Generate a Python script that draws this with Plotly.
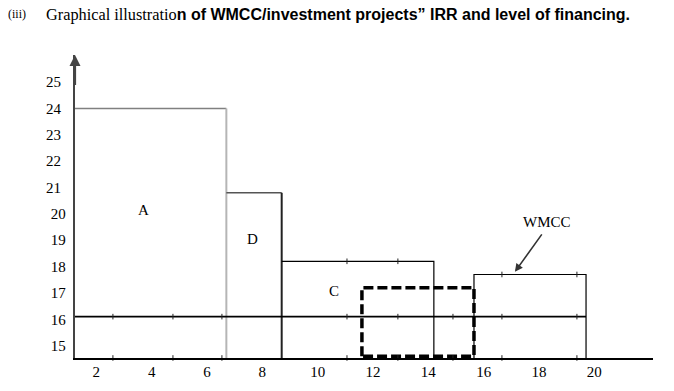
import plotly.graph_objects as go

# ---------------- data ----------------
x_ticks = [2, 4, 6, 8, 10, 12, 14, 16, 18, 20]
y_ticks_low = [15, 16, 17, 18, 19, 20]
y_ticks_high = [21, 22, 23, 24, 25]

projects = ["A", "D", "C"]
project_end = [6.7, 8.7, 14.2]        # cumulative financing level at end of each project
project_irr = [24.0, 20.8, 18.2]      # IRR of each project

wmcc_start = 15.65
wmcc_end = 19.7
wmcc_rate = 17.7

dashed_start = 11.6
dashed_end = 15.65
dashed_top = 17.2

cost_line = 16.1

# small tick marks drawn on the horizontal lines
marks_on_cost_line = [2.6, 4.77, 6.54, 11.06, 12.9, 14.89, 16.66, 19.37]
marks_on_c_top = [11.06, 12.9]
marks_on_wmcc_top = [16.66, 19.37]

X_MIN, X_MAX = 1.23, 22.12
Y_MIN, Y_MAX = 14.53, 26.03

# page body has an 8px margin -> figure is shifted by 8px
OFF = 8
W, H = 674 - OFF, 391 - OFF
ML, MR, MT, MB = 75 - OFF, 21, 55 - OFF, 33
PW, PH = W - ML - MR, H - MT - MB


def px(xp):
    return (xp - OFF - ML) / PW


def py(yp):
    return (H - MB - (yp - OFF)) / PH


SERIF = "Liberation Serif"
SANS = "Liberation Sans"

fig = go.Figure()


def seg(xs, ys, color, width, dash="solid"):
    fig.add_trace(go.Scatter(x=xs, y=ys, mode="lines", cliponaxis=False,
                             line=dict(color=color, width=width, dash=dash),
                             hoverinfo="skip", showlegend=False))


# project A
seg([X_MIN, project_end[0]], [project_irr[0], project_irr[0]], "#808080", 1.6)
seg([project_end[0], project_end[0]], [Y_MIN, project_irr[0]], "#b5b5b5", 2)
# project D
seg([project_end[0], project_end[1]], [project_irr[1], project_irr[1]], "#555555", 1.6)
seg([project_end[1], project_end[1]], [Y_MIN, project_irr[1]], "#222222", 2)
# project C
seg([project_end[1], project_end[2], project_end[2]],
    [project_irr[2], project_irr[2], Y_MIN], "#000000", 1.2)
# horizontal line at 16
seg([X_MIN, wmcc_end], [cost_line, cost_line], "#000000", 1.8)
# WMCC box
seg([wmcc_start, wmcc_start, wmcc_end, wmcc_end],
    [Y_MIN, wmcc_rate, wmcc_rate, Y_MIN], "#000000", 1.2)
# dashed box
seg([dashed_start, dashed_start, dashed_end, dashed_end, dashed_start],
    [Y_MIN + 0.07, dashed_top, dashed_top, Y_MIN + 0.07, Y_MIN + 0.07],
    "#000000", 3.5, dash="10px,4px")

# small tick marks
mx = marks_on_cost_line + marks_on_cost_line + marks_on_c_top + marks_on_wmcc_top
my = ([cost_line] * len(marks_on_cost_line) + [Y_MIN] * len(marks_on_cost_line)
      + [project_irr[2]] * len(marks_on_c_top) + [wmcc_rate] * len(marks_on_wmcc_top))
fig.add_trace(go.Scatter(x=mx, y=my, mode="markers", cliponaxis=False,
                         marker=dict(symbol="line-ns", size=4,
                                     line=dict(color="#222222", width=1)),
                         hoverinfo="skip", showlegend=False))

ann = []
# y axis arrow head
ann.append(dict(x=X_MIN, y=Y_MAX, ax=X_MIN, ay=Y_MAX - 1.2, xref="x", yref="y",
                axref="x", ayref="y", text="", showarrow=True, arrowhead=2,
                arrowsize=1, arrowwidth=2.2, arrowcolor="#444444"))
# project labels
label_pos = {"A": (3.69, 20.15), "D": (7.66, 19.05), "C": (10.59, 17.07)}
for p in projects:
    lx, ly = label_pos[p]
    ann.append(dict(x=lx, y=ly, xref="x", yref="y", text=p, showarrow=False,
                    font=dict(family=SERIF, size=15, color="black")))
# WMCC label and arrow
ann.append(dict(x=18.29, y=19.69, xref="x", yref="y", text="WMCC", showarrow=False,
                font=dict(family=SERIF, size=15, color="black")))
ann.append(dict(x=17.13, y=17.80, ax=18.14, ay=19.28, xref="x", yref="y",
                axref="x", ayref="y", text="", showarrow=True, arrowhead=2,
                arrowsize=1, arrowwidth=1.6, arrowcolor="#333333"))
# title
ann.append(dict(x=px(6), y=py(14), xref="paper", yref="paper", xanchor="left",
                yanchor="middle", text="(iii)", showarrow=False,
                font=dict(family=SERIF, size=12, color="black")))
ann.append(dict(x=px(44), y=py(14), xref="paper", yref="paper", xanchor="left",
                yanchor="middle",
                text=("<span style='font-family:Liberation Serif;font-size:16.3px'>"
                      "Graphical illustratio</span>"
                      "<b>n of WMCC/investment projects\u201d IRR and level of financing.</b>"),
                showarrow=False, font=dict(family=SANS, size=16, color="black")))

fig.update_layout(
    width=W, height=H,
    margin=dict(l=ML, r=MR, t=MT, b=MB, autoexpand=False),
    plot_bgcolor="white", paper_bgcolor="white",
    showlegend=False,
    annotations=ann,
    xaxis=dict(range=[X_MIN, X_MAX], showgrid=False, zeroline=False,
               automargin=False,
               showline=True, linecolor="black", linewidth=1.6,
               tickvals=x_ticks, ticktext=[str(v) for v in x_ticks], ticks="",
               ticklabelstandoff=-1,
               tickfont=dict(family=SERIF, size=15, color="black")),
    yaxis=dict(range=[Y_MIN, Y_MAX], showgrid=False, zeroline=False,
               automargin=False,
               showline=True, linecolor="#444444", linewidth=2.4,
               tickvals=y_ticks_low, ticktext=[str(v) for v in y_ticks_low],
               ticks="", ticklabelstandoff=4,
               tickfont=dict(family=SERIF, size=15, color="black")),
    yaxis2=dict(range=[Y_MIN, Y_MAX], overlaying="y", side="left",
                automargin=False,
                showgrid=False, zeroline=False, showline=False,
                tickvals=y_ticks_high, ticktext=[str(v) for v in y_ticks_high],
                ticks="", ticklabelstandoff=13,
                tickfont=dict(family=SERIF, size=15, color="black")),
)
# invisible trace so that yaxis2 (upper tick labels) is drawn
fig.add_trace(go.Scatter(x=[X_MIN], y=[Y_MIN], yaxis="y2", mode="markers",
                         marker=dict(opacity=0), hoverinfo="skip", showlegend=False))

fig.write_html("out.html")
